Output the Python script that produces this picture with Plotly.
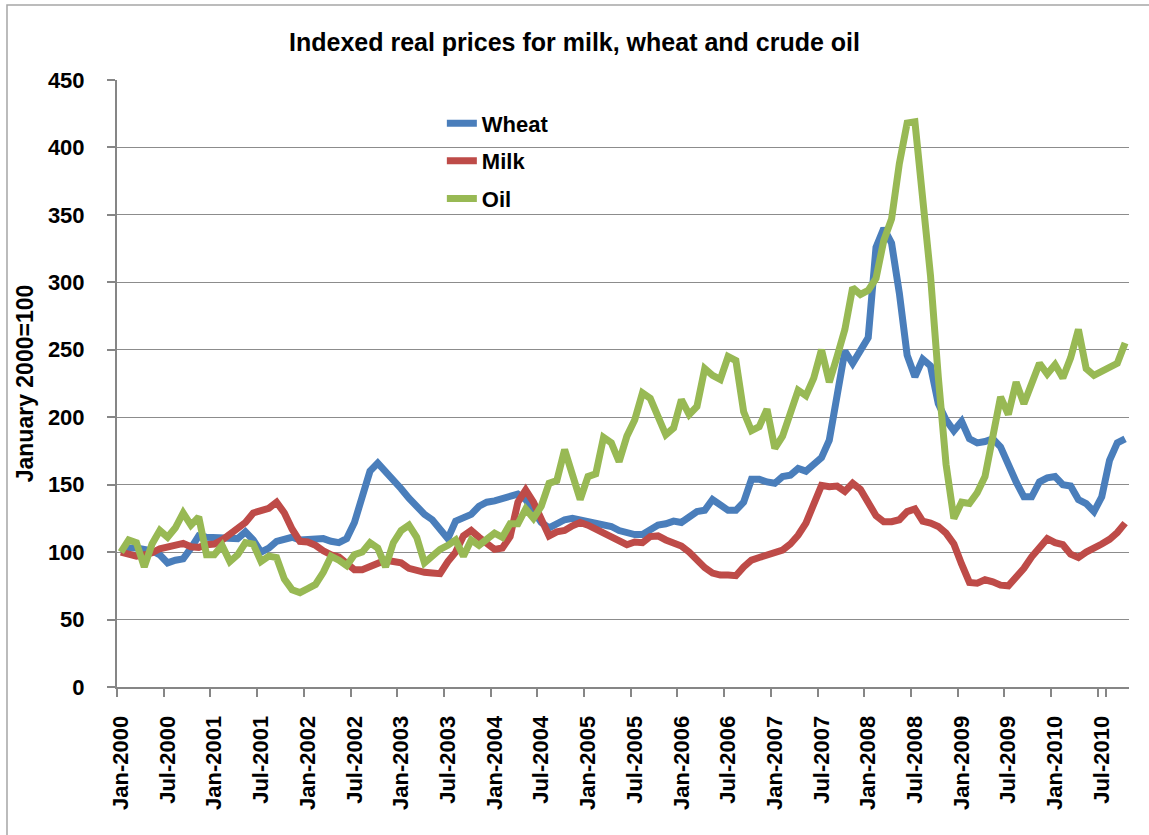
import plotly.graph_objects as go
import pandas as pd

# monthly categories Jan-2000 .. Oct-2010
months = pd.date_range("2000-01-01", periods=130, freq="MS").strftime("%b-%Y").tolist()
tick_labels = months[::6]

wheat = [100, 103, 103, 102, 101, 98, 92, 94, 95, 103,
         112, 111, 111, 111, 110, 110, 115, 109, 100, 103,
         108, 110, 111, 109, 109, 110, 110, 108, 107, 110,
         122, 141, 160, 166, 160, 153, 147, 140, 134, 128,
         124, 116, 110, 123, 126, 128, 134, 137, 138, 140,
         142, 143, 139, 130, 122, 118, 121, 124, 125, 124,
         123, 121, 120, 119, 116, 114, 113, 113, 117, 120,
         121, 123, 122, 126, 130, 131, 139, 135, 131, 131,
         137, 154, 154, 152, 151, 156, 157, 162, 160, 165,
         170, 183, 215, 249, 240, 250, 259, 326, 340, 329,
         292, 246, 230, 243, 238, 210, 198, 190, 197, 184,
         181, 182, 184, 178, 164, 152, 141, 141, 152, 155,
         156, 150, 149, 139, 136, 130, 141, 168, 181, 184]

milk = [100, 98, 97, 98, 99.5, 102.5, 104, 105, 106.5, 104,
        103.5, 105.5, 106, 109, 113.5, 117.5, 122, 129, 130.5, 132.5,
        137, 129, 117, 108, 107.5, 105, 101, 98, 96.5, 92,
        87, 87, 89, 92, 94, 93, 92, 88, 86, 85,
        84.5, 84, 93, 100, 112, 116, 111, 106.5, 102, 103,
        111.5, 137, 146, 137, 123, 112, 115, 116, 119.5, 122,
        120, 117, 114, 112, 108, 105.5, 107.5, 107, 111.5, 112,
        109, 107, 104.5, 100, 93.5, 88.5, 84.5, 83, 83, 82.5,
        89, 94, 96, 98, 99.5, 101.5, 106, 112.5, 121.5, 137,
        149.5, 148.5, 149, 145, 151, 146.5, 137.5, 127, 122.5, 122.5,
        124, 130, 132, 123, 121.5, 119, 114, 106, 91, 77.5,
        77, 79.5, 78, 75.5, 75, 81.5, 88, 96.5, 103.5, 110,
        107, 105.5, 98.5, 96, 100, 102.5, 106, 109.5, 114.5, 121.5]

oil = [100, 109, 107, 89, 106, 116, 111, 118, 129, 120,
       126, 98, 98, 105, 93, 98, 107, 106, 93, 97,
       96, 80, 72, 70, 73, 76, 85, 97, 94, 90,
       98, 100, 107, 103, 89, 107, 116, 120, 111, 92,
       97, 102, 105, 109, 97, 109, 105, 109, 114, 111,
       121, 121, 132, 125, 134, 151, 153, 176, 158, 139,
       156, 158, 185, 181, 167, 186, 198, 218, 214, 200,
       187, 192, 213, 202, 208, 236, 231, 228, 245, 242,
       204, 190, 193, 206, 177, 186, 205, 220, 216, 229,
       250, 226, 245, 265, 296, 291, 294, 303, 331, 347,
       388, 418, 419, 360, 305, 230, 165, 125, 137, 136,
       144, 156, 183, 215, 202, 226, 210, 224, 240, 232,
       239, 229, 244, 265, 236, 231, 234, 236, 240, 255]

series = [("Wheat", wheat, "#4A7EBB"),
          ("Milk", milk, "#BE4B48"),
          ("Oil", oil, "#98B954")]

FONT = "Liberation Sans"
AXIS_GREY = "#868686"

fig = go.Figure()
for name, vals, color in series:
    fig.add_trace(go.Scatter(x=months, y=vals, mode="lines", name=name,
                             legendgroup=name,
                             line=dict(color=color, width=7)))

fig.update_layout(
    width=1149, height=835,
    margin=dict(l=117, r=20, t=80, b=148),
    paper_bgcolor="white", plot_bgcolor="white",
    title=dict(text="Indexed real prices for milk, wheat and crude oil",
               x=0.5, xref="container", y=0.949, yref="container",
               xanchor="center", yanchor="middle",
               font=dict(family=FONT, size=25, color="black", weight="bold")),
    legend=dict(x=0.321, y=0.963, xanchor="left", yanchor="top",
                bgcolor="rgba(0,0,0,0)", tracegroupgap=6,
                font=dict(family=FONT, size=22, color="black", weight="bold")),
    # outer chart border (left and top visible in the crop)
    shapes=[dict(type="rect", xref="paper", yref="paper",
                 x0=-0.1087, x1=1.2, y0=-0.5, y1=1.1236,
                 line=dict(color="#A6A6A6", width=1.5), layer="below")],
)

fig.update_xaxes(
    type="category", range=[-0.5, 129.5],
    tickmode="array", tickvals=tick_labels, ticktext=tick_labels,
    tickson="boundaries", ticks="outside", ticklen=8, tickcolor=AXIS_GREY,
    tickwidth=1.5, tickangle=-90, ticklabelstandoff=18,
    showline=True, linecolor=AXIS_GREY, linewidth=2, showgrid=False,
    tickfont=dict(family=FONT, size=22, color="black", weight="bold"),
)
fig.update_yaxes(
    range=[0, 450], dtick=50, tick0=0,
    showgrid=True, gridcolor="#8C8C8C", gridwidth=1.3, zeroline=False,
    showline=True, linecolor=AXIS_GREY, linewidth=2,
    ticks="outside", ticklen=8, tickcolor=AXIS_GREY, tickwidth=1.5,
    ticklabelstandoff=18,
    tickfont=dict(family=FONT, size=22, color="black", weight="bold"),
    title=dict(text="January 2000=100", standoff=8,
               font=dict(family=FONT, size=23, color="black", weight="bold")),
)

fig.write_html("out.html", config={"displayModeBar": False},
               post_script="document.body.style.margin='0';")
